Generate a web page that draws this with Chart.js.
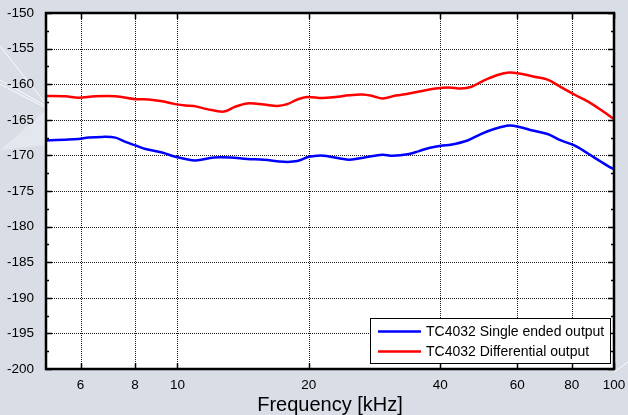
<!DOCTYPE html>
<html lang="en">
<head>
<meta charset="UTF-8" />
<title>TC4032 output noise</title>
<script src="https://cdn.jsdelivr.net/npm/chart.js"></script>
<style>
  html, body { margin: 0; padding: 0; background: #d8dde6; }
  #wrap { width: 628px; height: 415px; }
</style>
</head>
<body>
<div id="wrap"><canvas id="noiseChart" width="628" height="415"></canvas></div>
<script>
// x tick labels (kHz) and y tick labels
const xTicks = [6, 8, 10, 20, 40, 60, 80, 100];
const yTicks = [-200, -195, -190, -185, -180, -175, -170, -165, -160, -155, -150];
const yMinorTicks = [-197.5, -192.5, -187.5, -182.5, -177.5, -172.5, -167.5, -162.5, -157.5, -152.5];

// TC4032 Single ended output
const singleFreq = [5.0, 5.54, 5.93, 6.26, 6.72, 7.21, 7.6, 8.01, 8.45, 9.22, 9.89, 10.43, 11.0, 12.12,
  13.23, 14.45, 15.78, 17.53, 18.82, 20.0, 21.28, 22.23, 24.72, 27.0, 29.49, 31.08, 33.93, 35.76, 37.7,
  40.47, 42.27, 46.18, 49.54, 53.15, 57.54, 60.66, 65.1, 70.44, 75.58, 81.1, 87.0, 93.37, 97.55, 100];
const singleLevel = [-167.9, -167.8, -167.7, -167.5, -167.4, -167.5, -168.1, -168.6, -169.1, -169.6, -170.2,
  -170.5, -170.7, -170.3, -170.3, -170.5, -170.6, -170.9, -170.8, -170.2, -170.0, -170.15, -170.6, -170.25,
  -169.9, -170.05, -169.8, -169.4, -168.95, -168.6, -168.5, -167.9, -167.0, -166.3, -165.8, -166.0, -166.5,
  -167.0, -167.9, -168.6, -169.7, -170.9, -171.6, -171.9];

// TC4032 Differential output
const diffFreq = [5.0, 5.54, 5.93, 6.48, 7.21, 8.01, 8.6, 9.22, 9.89, 10.43, 10.9, 11.7, 12.77, 13.46, 14.45,
  15.78, 16.93, 17.85, 18.82, 19.84, 21.47, 23.03, 24.72, 26.53, 27.97, 29.49, 31.62, 33.93, 36.41, 39.06,
  41.9, 44.58, 46.99, 50.41, 54.11, 57.54, 60.66, 65.66, 70.44, 75.58, 81.1, 88.55, 95.0, 98.4, 100];
const diffLevel = [-161.65, -161.7, -161.9, -161.7, -161.7, -162.1, -162.15, -162.4, -162.8, -163.0, -163.05,
  -163.5, -163.85, -163.25, -162.7, -162.85, -163.05, -162.8, -162.15, -161.8, -161.95, -161.8, -161.55,
  -161.45, -161.65, -162.0, -161.6, -161.3, -160.95, -160.6, -160.45, -160.6, -160.4, -159.45, -158.7,
  -158.35, -158.5, -158.95, -159.35, -160.4, -161.45, -162.7, -163.95, -164.6, -164.9];

const toPoints = (xs, ys) => xs.map((x, i) => ({ x: x, y: ys[i] }));

const framePlugin = {
  id: "frame",
  beforeDraw(chart) {
    const ctx = chart.ctx;
    const ca = chart.chartArea;
    ctx.save();
    ctx.fillStyle = "#d8dde6";
    ctx.fillRect(0, 0, chart.width, chart.height);
    // faint streaks of the backdrop
    ctx.fillStyle = "#e3e7ee";
    ctx.beginPath();
    ctx.moveTo(0, 150);
    ctx.lineTo(ca.left, 110);
    ctx.lineTo(ca.left, 145);
    ctx.closePath();
    ctx.fill();
    ctx.strokeStyle = "rgba(255,255,255,0.85)";
    ctx.lineWidth = 1;
    ctx.beginPath();
    ctx.moveTo(0, 46); ctx.lineTo(ca.left, 104);
    ctx.moveTo(0, 80); ctx.lineTo(ca.left, 106);
    ctx.moveTo(0, 84); ctx.lineTo(ca.left, 108);
    ctx.moveTo(ca.right, 372); ctx.lineTo(chart.width, 362);
    ctx.stroke();
    ctx.fillStyle = "#ffffff";
    ctx.fillRect(ca.left, ca.top, ca.right - ca.left, ca.bottom - ca.top);
    ctx.restore();
  },
  beforeDatasetsDraw(chart) {
    const ctx = chart.ctx;
    const ca = chart.chartArea;
    const xs = chart.scales.x, ys = chart.scales.y;
    ctx.save();
    ctx.strokeStyle = "#1a1a1a";
    ctx.lineWidth = 1;
    ctx.setLineDash([1, 1]);
    ctx.beginPath();
    xTicks.forEach((v) => {
      const px = Math.round(xs.getPixelForValue(v)) + 0.5;
      ctx.moveTo(px, ca.top);
      ctx.lineTo(px, ca.bottom);
    });
    yTicks.forEach((v) => {
      const py = Math.round(ys.getPixelForValue(v)) + 0.5;
      ctx.moveTo(ca.left, py);
      ctx.lineTo(ca.right, py);
    });
    ctx.stroke();
    ctx.restore();
  },
  afterDatasetsDraw(chart) {
    const ctx = chart.ctx;
    const ca = chart.chartArea;
    const xs = chart.scales.x, ys = chart.scales.y;
    ctx.save();
    ctx.strokeStyle = "#000";
    ctx.lineWidth = 1.5;
    ctx.beginPath();
    xTicks.forEach((v) => {
      const px = Math.round(xs.getPixelForValue(v)) + 0.5;
      ctx.moveTo(px, ca.bottom); ctx.lineTo(px, ca.bottom - 6);
      ctx.moveTo(px, ca.top); ctx.lineTo(px, ca.top + 6);
    });
    yTicks.forEach((v) => {
      const py = Math.round(ys.getPixelForValue(v)) + 0.5;
      ctx.moveTo(ca.left, py); ctx.lineTo(ca.left + 6, py);
      ctx.moveTo(ca.right, py); ctx.lineTo(ca.right - 6, py);
    });
    yMinorTicks.forEach((v) => {
      const py = Math.round(ys.getPixelForValue(v)) + 0.5;
      ctx.moveTo(ca.left, py); ctx.lineTo(ca.left + 3, py);
      ctx.moveTo(ca.right, py); ctx.lineTo(ca.right - 3, py);
    });
    ctx.stroke();
    ctx.lineWidth = 2.5;
    ctx.strokeRect(ca.left, ca.top, ca.right - ca.left, ca.bottom - ca.top);

    // legend box, bottom right inside the plot
    const bw = 240, bh = 45;
    const bx = ca.right - 4 - bw, by = ca.bottom - 6 - bh;
    ctx.fillStyle = "#fff";
    ctx.fillRect(bx, by, bw, bh);
    ctx.lineWidth = 1;
    ctx.strokeRect(bx + 0.5, by + 0.5, bw, bh);
    ctx.font = "14px 'Liberation Sans', Arial, sans-serif";
    ctx.textBaseline = "middle";
    ctx.textAlign = "left";
    chart.data.datasets.forEach((ds, i) => {
      const ly = by + 13.5 + i * 20;
      ctx.strokeStyle = ds.borderColor;
      ctx.lineWidth = 2.5;
      ctx.beginPath();
      ctx.moveTo(bx + 8, ly);
      ctx.lineTo(bx + 51, ly);
      ctx.stroke();
      ctx.fillStyle = "#000";
      ctx.fillText(ds.label, bx + 56, ly + 0.5);
    });
    ctx.restore();
  },
};

new Chart(document.getElementById("noiseChart"), {
  type: "line",
  data: {
    datasets: [
      {
        label: "TC4032 Single ended output",
        data: toPoints(singleFreq, singleLevel),
        borderColor: "#0000ff",
        borderWidth: 2.5,
        pointRadius: 0,
        tension: 0.35,
        fill: false,
      },
      {
        label: "TC4032 Differential output",
        data: toPoints(diffFreq, diffLevel),
        borderColor: "#ff0000",
        borderWidth: 2.5,
        pointRadius: 0,
        tension: 0.35,
        fill: false,
      },
    ],
  },
  options: {
    responsive: false,
    animation: false,
    devicePixelRatio: 1,
    layout: { padding: { top: 13, right: 14, left: 0, bottom: 0 } },
    plugins: {
      legend: { display: false },
      tooltip: { enabled: false },
    },
    scales: {
      x: {
        type: "logarithmic",
        min: 5,
        max: 100,
        grid: { display: false },
        border: { display: false },
        afterBuildTicks: (s) => { s.ticks = xTicks.map((v) => ({ value: v })); },
        afterFit: (s) => { s.height = 46; },
        ticks: {
          autoSkip: false,
          maxRotation: 0,
          padding: 0,
          color: "#000",
          font: { family: "'Liberation Sans', Arial, sans-serif", size: 13.5 },
          callback: (v) => String(v),
        },
        title: {
          display: true,
          text: "Frequency [kHz]",
          color: "#000",
          padding: 0,
          font: { family: "'Liberation Sans', Arial, sans-serif", size: 20, lineHeight: 1 },
        },
      },
      y: {
        min: -200,
        max: -150,
        grid: { display: false },
        border: { display: false },
        afterBuildTicks: (s) => { s.ticks = yTicks.map((v) => ({ value: v })); },
        afterFit: (s) => { s.width = 46; },
        ticks: {
          padding: 4,
          color: "#000",
          font: { family: "'Liberation Sans', Arial, sans-serif", size: 13.5 },
          callback: (v) => String(v),
        },
      },
    },
  },
  plugins: [framePlugin],
});
</script>
</body>
</html>
